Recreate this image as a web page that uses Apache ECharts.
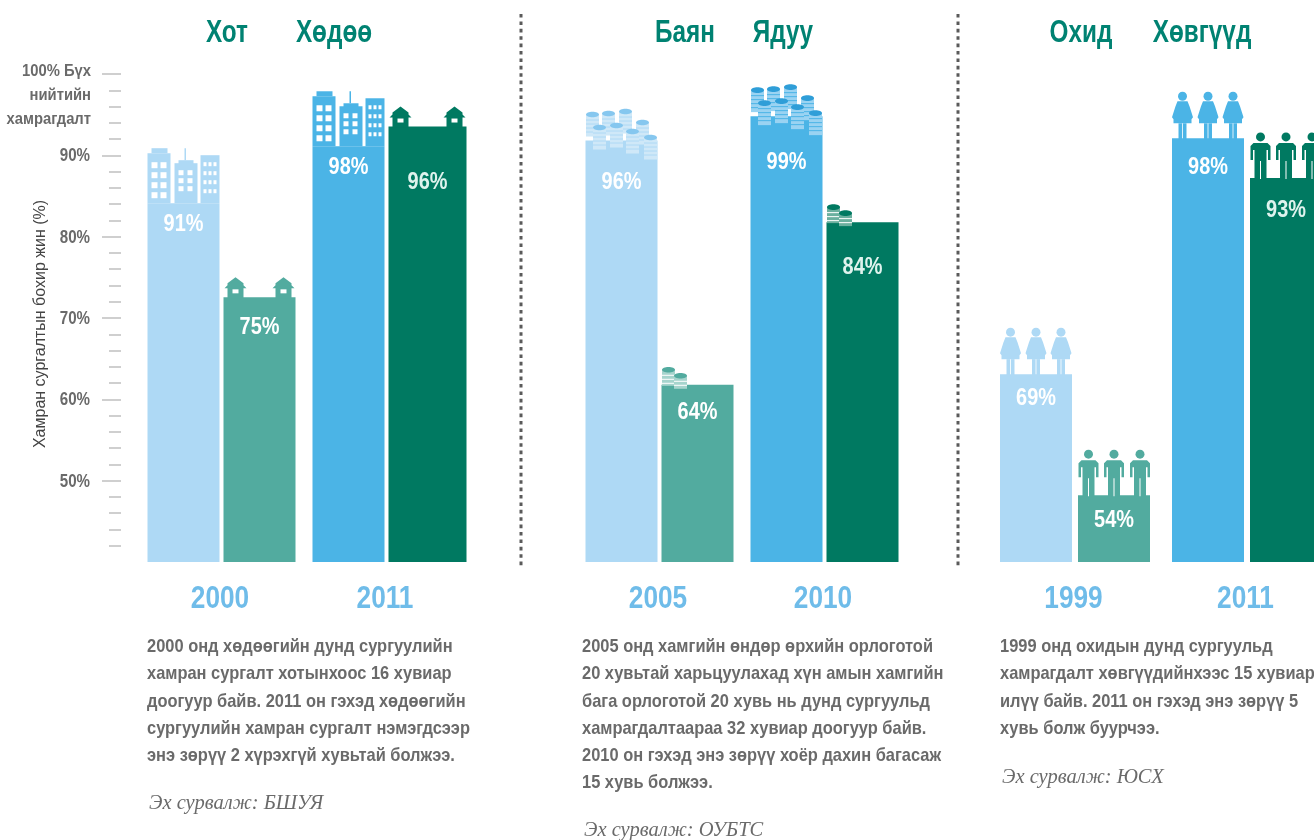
<!DOCTYPE html>
<html><head><meta charset="utf-8">
<style>html,body{margin:0;padding:0;background:#fff;overflow:hidden}#c{width:1314px;height:840px}</style>
<script src="https://cdn.jsdelivr.net/npm/echarts@6/dist/echarts.min.js"></script>
</head><body><div id="c"></div>
<script>
// ---- data ----
const yearsA = ['2000', '2011'];
const yearsB = ['2005', '2010'];
const yearsC = ['1999', '2011'];
const urban = [91, 98];
const rural = [75, 96];
const rich = [96, 99];
const poor = [64, 84];
const girls = [69, 98];
const boys = [54, 93];
const tickValues = [50, 60, 70, 80, 90, 100];
const groupTitles = ['Хот', 'Хөдөө', 'Баян', 'Ядуу', 'Охид', 'Хөвгүүд'];
const axisTitle = 'Хамран сургалтын бохир жин (%)';
const topTickLines = ['100% Бүх', 'нийтийн', 'хамрагдалт'];
const noteA = ['2000 онд хөдөөгийн дунд сургуулийн', 'хамран сургалт хотынхоос 16 хувиар', 'доогуур байв. 2011 он гэхэд хөдөөгийн', 'сургуулийн хамран сургалт нэмэгдсээр', 'энэ зөрүү 2 хүрэхгүй хувьтай болжээ.'];
const noteB = ['2005 онд хамгийн өндөр өрхийн орлоготой', '20 хувьтай харьцуулахад хүн амын хамгийн', 'бага орлоготой 20 хувь нь дунд сургуульд', 'хамрагдалтаараа 32 хувиар доогуур байв.', '2010 он гэхэд энэ зөрүү хоёр дахин багасаж', '15 хувь болжээ.'];
const noteC = ['1999 онд охидын дунд сургуульд', 'хамрагдалт хөвгүүдийнхээс 15 хувиар', 'илүү байв. 2011 он гэхэд энэ зөрүү 5', 'хувь болж буурчээ.'];
const sources = ['Эх сурвалж: БШУЯ', 'Эх сурвалж: ОУБТС', 'Эх сурвалж: ЮСХ'];

// ---- styling ----
const SANS = '"Liberation Sans",sans-serif';
const LIGHT = '#aed9f5', BLUE = '#4bb4e6', MID = '#52ab9f', DARK = '#007961', TEAL = '#008272';
const BAR = 72, W = '#fff';
const TICK = '#cfcfcf', GREY = '#6a6a6a';

function rect(x, y, w, h, fill) { return {type: 'rect', shape: {x, y, width: w, height: h}, style: {fill}}; }
function poly(points, fill) { return {type: 'polygon', shape: {points}, style: {fill}}; }
function label(text, x, y, font, fill, sx, align) {
  return {type: 'text', x, y, scaleX: sx, style: {text, x: 0, y: 0, align: align || 'left', verticalAlign: 'middle', font, fill}};
}

function buildings(x, y, c) {
  const o = [];
  o.push(rect(x + 4, y + 1, 16, 5, c), rect(x, y + 6, 23, 50, c));
  o.push(rect(x + 31, y + 13, 15, 5, c), rect(x + 37, y + 1, 1.5, 12, c), rect(x + 27, y + 16, 23, 40, c));
  o.push(rect(x + 53, y + 8, 19, 48, c));
  [0, 1, 2, 3].forEach(r => [4, 13].forEach(cx => o.push(rect(x + cx, y + 15 + r * 10, 6, 6, W))));
  [0, 1, 2].forEach(r => [31, 40].forEach(cx => o.push(rect(x + cx, y + 23 + r * 8, 5, 5, W))));
  [0, 1, 2, 3].forEach(r => [56, 61, 66].forEach(cx => o.push(rect(x + cx, y + 15 + r * 9, 3, 4, W))));
  return {shapes: o, depth: 56};
}
function houses(x, y, c, w) {
  const o = [];
  [x + 12, x + w - 12].forEach(cx => {
    o.push(poly([[cx, y], [cx + 8, y + 6], [cx + 8, y + 8], [cx + 11, y + 11], [cx + 8, y + 11], [cx + 8, y + 21], [cx - 8, y + 21], [cx - 8, y + 11], [cx - 11, y + 11], [cx - 8, y + 8], [cx - 8, y + 6]], c));
    o.push(rect(cx - 3, y + 12, 6, 4, W));
  });
  return {shapes: o, depth: 20};
}
function coinStack(cx, cy, h, cap, side, fill) {
  const o = [rect(cx - 6.5, cy, 13, h, side)];
  for (let s = cy + 5; s < cy + h - 1; s += 4) o.push(rect(cx - 6.5, s, 13, 1, fill));
  o.push({type: 'ellipse', shape: {cx, cy, rx: 6.5, ry: 2.8}, style: {fill: cap}});
  return o;
}
function coinsMany(x, y, c, cap, side) {
  const spots = [[7, 8], [23, 7], [40, 5], [57, 16], [14, 21], [31, 19], [47, 25], [65, 31]];
  const o = [];
  spots.forEach(p => coinStack(x + p[0], y + p[1], 22, cap, side, c).forEach(e => o.push(e)));
  return {shapes: o, depth: 34};
}
function coinsFew(x, y, c, cap, side) {
  return {shapes: coinStack(x + 7, y + 3, 16, cap, side, W).concat(coinStack(x + 19, y + 9, 13, cap, side, W)), depth: 18};
}
function women(x, y, c) {
  const o = [];
  [10.5, 36, 61].forEach(d => {
    const cx = x + d;
    o.push({type: 'circle', shape: {cx, cy: y + 6, r: 4.5}, style: {fill: c}});
    o.push(poly([[cx - 5, y + 11], [cx + 5, y + 11], [cx + 7, y + 16], [cx + 10.5, y + 27], [cx + 9, y + 29], [cx + 9, y + 33], [cx - 9, y + 33], [cx - 9, y + 29], [cx - 10.5, y + 27], [cx - 7, y + 16]], c));
    o.push(rect(cx - 4, y + 33, 3.6, 16, c), rect(cx + 0.4, y + 33, 3.6, 16, c));
  });
  return {shapes: o, depth: 48};
}
function men(x, y, c) {
  const o = [];
  [10.5, 36, 62].forEach(d => {
    const cx = x + d;
    o.push({type: 'circle', shape: {cx, cy: y + 6, r: 4.5}, style: {fill: c}});
    o.push(poly([[cx - 7, y + 12], [cx + 7, y + 12], [cx + 10, y + 15], [cx + 10, y + 29], [cx + 7.5, y + 29], [cx + 7.5, y + 19], [cx + 6, y + 19], [cx + 6, y + 48], [cx - 6, y + 48], [cx - 6, y + 19], [cx - 7.5, y + 19], [cx - 7.5, y + 29], [cx - 10, y + 29], [cx - 10, y + 15]], c));
    o.push(rect(cx - 0.5, y + 30, 1, 18, W));
  });
  return {shapes: o, depth: 47};
}

const looks = [LIGHT, BLUE];
const looks2 = [MID, DARK];
const coinTone = {[LIGHT]: ['#86c7ef', '#cfe8f8'], [BLUE]: ['#2f9ed8', '#9ad3f2'], [MID]: ['#52ab9f', '#a6d4cd'], [DARK]: ['#007961', '#6bb09f']};

function makeRender(shift, palette, icon, labelDrop, widths) {
  return function (params, api) {
    const i = api.value(0), v = api.value(1);
    const base = api.coord([i, 40]), top = api.coord([i, v]);
    const w = widths ? widths[i] : BAR;
    const x = base[0] + shift - BAR / 2;
    const c = palette[i];
    const ic = icon(x, top[1], c, w);
    const bodyTop = top[1] + ic.depth;
    return {type: 'group', children: [
      rect(x, bodyTop, w, base[1] - bodyTop, c)
    ].concat(ic.shapes).concat([
      label(v + '%', x + w / 2, top[1] + labelDrop[i], 'bold 24px ' + SANS, c === DARK ? '#dff3ee' : W, 0.83, 'center')
    ])};
  };
}
const coinIcon = (fn) => (x, y, c) => fn(x, y, c, coinTone[c][0], coinTone[c][1]);

function series(name, idx, values, shift, palette, icon, drop, widths) {
  return {type: 'custom', name, coordinateSystem: 'cartesian2d', xAxisIndex: idx, yAxisIndex: idx,
    encode: {x: 0, y: 1}, clip: false, silent: true,
    data: values.map((v, i) => [i, v]),
    renderItem: makeRender(shift, palette, icon, drop, widths)};
}
function yearSeries(idx, ys) {
  return {type: 'custom', coordinateSystem: 'cartesian2d', xAxisIndex: idx, yAxisIndex: idx,
    encode: {x: 0, y: 1}, clip: false, silent: true,
    data: ys.map((y, i) => [i, 40]),
    renderItem: (p, api) => {
      const pt = api.coord([api.value(0), api.value(1)]);
      return label(ys[api.value(0)], pt[0] - 1.5, pt[1] + 37, 'bold 32px ' + SANS, '#6fbce9', 0.82, 'center');
    }};
}
const tickSeries = {type: 'custom', coordinateSystem: 'cartesian2d', xAxisIndex: 0, yAxisIndex: 0,
  encode: {x: 0, y: 1}, clip: false, silent: true,
  data: tickValues.map(v => [0, v]),
  renderItem: (p, api) => {
    const v = api.value(1), y = api.coord([0, v])[1], rx = p.coordSys.x - 49;
    if (v === 100) return {type: 'group', children: topTickLines.map((t, j) =>
      label(t, rx + 1, y - 3 + j * 24, 'bold 17px ' + SANS, GREY, 0.87, 'right'))};
    return label(v + '%', rx, y + 1, 'bold 18px ' + SANS, GREY, 0.84, 'right');
  }};

const gridBox = [{left: 139, width: 330}, {left: 577, width: 330}, {left: 989, width: 344}];
const allYears = [yearsA, yearsB, yearsC];

const grid = gridBox.map(g => ({left: g.left, width: g.width, top: 74, height: 488, outerBoundsMode: 'none'}));
const xAxis = allYears.map((ys, i) => ({
  type: 'category', gridIndex: i, data: ys,
  axisLine: {show: false}, axisTick: {show: false}, axisLabel: {show: false}
}));
const yAxis = [0, 1, 2].map(i => i === 0 ? ({
  type: 'value', gridIndex: 0, min: 40, max: 100, interval: 10, offset: 18,
  name: axisTitle, nameLocation: 'middle', nameRotate: 90, nameGap: 72,
  nameTextStyle: {fontFamily: SANS, fontSize: 16, color: '#444', padding: [0, 12, 0, 0]},
  axisLine: {show: false}, splitLine: {show: false},
  axisTick: {show: true, length: 19, lineStyle: {color: TICK, width: 2}, customValues: tickValues},
  minorTick: {show: true, splitNumber: 5, length: 12, lineStyle: {color: TICK, width: 2}},
  axisLabel: {show: false}
}) : ({type: 'value', gridIndex: i, min: 40, max: 100, interval: 10, show: false}));

const seriesList = [
  series(groupTitles[0], 0, urban, -38, looks, buildings, [77, 77]),
  series(groupTitles[1], 0, rural, 38, looks2, houses, [50, 76], [BAR, 78]),
  series(groupTitles[2], 1, rich, -38, looks, coinIcon(coinsMany), [76, 80]),
  series(groupTitles[3], 1, poor, 38, looks2, coinIcon(coinsFew), [46, 63]),
  series(groupTitles[4], 2, girls, -39, looks, women, [72, 77]),
  series(groupTitles[5], 2, boys, 39, looks2, men, [72, 79]),
  yearSeries(0, yearsA), yearSeries(1, yearsB), yearSeries(2, yearsC), tickSeries
];

const titleX = [227, 334, 685, 783, 1081, 1202];
const noteX = [147, 582, 1000];
const sourceY = [804, 831, 778];
const notes = [noteA, noteB, noteC];
const graphics = [];
titleX.forEach((x, i) => graphics.push(label(groupTitles[i], x, 33, 'bold 32px ' + SANS, TEAL, 0.76, 'center')));
[521, 958].forEach(x => graphics.push({type: 'line', shape: {x1: x, y1: 14, x2: x, y2: 566},
  style: {stroke: '#5a5a5a', lineWidth: 3, lineDash: [3.6, 3.8]}}));
notes.forEach((lines, n) => lines.forEach((t, j) => graphics.push(
  label(t, noteX[n], 647 + j * 27.2, 'bold 19px ' + SANS, GREY, 0.865))));
sources.forEach((t, n) => graphics.push(
  label(t, noteX[n] + 2, sourceY[n], 'italic 20.5px "Liberation Serif",serif', GREY, 1)));

const chart = echarts.init(document.getElementById('c'), null, {renderer: 'canvas', width: 1314, height: 840});
chart.setOption({animation: false, backgroundColor: '#fff', grid, xAxis, yAxis, series: seriesList, graphic: graphics});
</script></body></html>
